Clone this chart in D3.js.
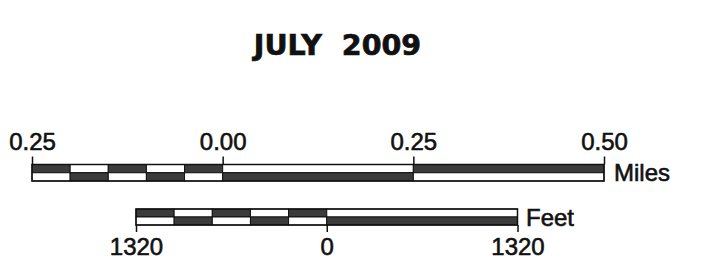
<!DOCTYPE html>
<html>
<head>
<meta charset="utf-8">
<script src="https://cdn.jsdelivr.net/npm/d3@7"></script>
<style>
  html, body { margin: 0; padding: 0; background: #fff; }
  svg { display: block; }
</style>
</head>
<body>
<svg id="chart" width="723" height="277"></svg>
<script>
const title = "JULY  2009";

// Miles scale bar
const milesTicks = [-0.25, 0, 0.25, 0.5];
const milesTickLabels = ["0.25", "0.00", "0.25", "0.50"];
const milesBreaks = [-0.25, -0.2, -0.15, -0.1, -0.05, 0, 0.25, 0.5];
const milesTopDark = [true, false, true, false, true, false, true];
const milesUnit = "Miles";

// Feet scale bar
const feetTicks = [-1320, 0, 1320];
const feetTickLabels = ["1320", "0", "1320"];
const feetBreaks = [-1320, -1056, -792, -528, -264, 0, 1320];
const feetTopDark = [true, false, true, false, true, false];
const feetUnit = "Feet";

const svg = d3.select("#chart");
const DARK = "#3b3b3b";
const LINE = "#111";

svg.append("text")
  .attr("x", 337.5).attr("y", 55)
  .attr("text-anchor", "middle")
  .attr("font-family", "DejaVu Sans, Verdana, sans-serif")
  .attr("font-weight", "bold")
  .attr("font-size", 28.5)
  .attr("fill", "#111")
  .attr("stroke", "#111").attr("stroke-width", 0.7)
  .style("white-space", "pre")
  .text(title);

function styleLabel(sel) {
  sel.attr("font-family", "Liberation Sans, Arial, sans-serif")
    .attr("font-size", 24)
    .attr("fill", "#111")
    .attr("stroke", "#111").attr("stroke-width", 0.6);
}

function drawBar(opts) {
  const { breaks, topDark, x, y0, h, ticks, labels, side, unit, unitX, unitY } = opts;
  const g = svg.append("g");
  const segs = d3.range(breaks.length - 1).map(i => ({ a: breaks[i], b: breaks[i + 1], top: topDark[i] }));
  const half = h / 2;
  g.selectAll("rect.top").data(segs).join("rect")
    .attr("x", d => x(d.a)).attr("width", d => x(d.b) - x(d.a))
    .attr("y", y0).attr("height", half)
    .attr("fill", d => d.top ? DARK : "#fff")
    .attr("stroke", LINE).attr("stroke-width", 1);
  g.selectAll("rect.bot").data(segs).join("rect")
    .attr("x", d => x(d.a)).attr("width", d => x(d.b) - x(d.a))
    .attr("y", y0 + half).attr("height", half)
    .attr("fill", d => d.top ? "#fff" : DARK)
    .attr("stroke", LINE).attr("stroke-width", 1);
  g.append("rect")
    .attr("x", x.range()[0]).attr("width", x.range()[1] - x.range()[0])
    .attr("y", y0).attr("height", h)
    .attr("fill", "none").attr("stroke", LINE).attr("stroke-width", 1.5);

  const axis = (side === "top" ? d3.axisTop(x) : d3.axisBottom(x))
    .tickValues(ticks)
    .tickFormat((d, i) => labels[i])
    .tickSize(side === "top" ? 8 : 7)
    .tickPadding(side === "top" ? 7 : 6)
    .tickSizeOuter(0);
  const ag = svg.append("g")
    .attr("transform", `translate(0,${side === "top" ? y0 : y0 + h})`)
    .call(axis);
  ag.select(".domain").remove();
  ag.selectAll(".tick line").attr("stroke", LINE).attr("stroke-width", 1.5);
  styleLabel(ag.selectAll(".tick text"));

  styleLabel(svg.append("text")
    .attr("x", unitX).attr("y", unitY)
    .text(unit));
}

const xMiles = d3.scaleLinear().domain([milesTicks[0], milesTicks[milesTicks.length - 1]]).range([32, 604]);
drawBar({ breaks: milesBreaks, topDark: milesTopDark, x: xMiles, y0: 164.5, h: 16.5,
  ticks: milesTicks, labels: milesTickLabels, side: "top", unit: milesUnit, unitX: 614, unitY: 181 });

const xFeet = d3.scaleLinear().domain([feetTicks[0], feetTicks[feetTicks.length - 1]]).range([136, 517.5]);
drawBar({ breaks: feetBreaks, topDark: feetTopDark, x: xFeet, y0: 209, h: 16,
  ticks: feetTicks, labels: feetTickLabels, side: "bottom", unit: feetUnit, unitX: 526, unitY: 226 });
</script>
</body>
</html>
